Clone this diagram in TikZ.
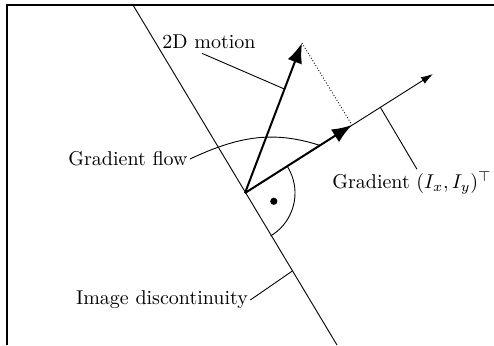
\documentclass[tikz,border=0pt]{standalone}
\usetikzlibrary{arrows.meta,calc}
\begin{document}
\begin{tikzpicture}[x=0.5pt,y=-0.5pt,
  thinline/.style={line width=0.45pt},
  vec/.style={line width=1pt,-{Latex[length=10pt,width=7.5pt]}},
  thinvec/.style={line width=0.45pt,-{Latex[length=6pt,width=3.8pt]}},
  lbl/.style={font=\normalsize,inner sep=1pt}]
\useasboundingbox (0,0) rectangle (494,345);
% frame
\draw[line width=0.7pt] (7,345) -- (7,5) -- (494,5);
% points
\coordinate (O) at (245,193);
\coordinate (M) at (302,43);
\coordinate (G) at (352,125);
\coordinate (E) at (433,74);
\coordinate (D1) at (133,5);
\coordinate (D2) at (337,345);
% discontinuity
\draw[thinline] (D1) -- (D2);
% vectors
\draw[thinvec] (O) -- (E);
\draw[vec] (O) -- (M);
\draw[vec] (O) -- (G);
\draw[thinline,densely dotted] (M) -- (G);
% right angle arc
\draw[thinline] ($(O)+(32.4:50 and -50)$) arc[start angle=32.4,end angle=-59.1,x radius=50,y radius=-50];
\fill ($(O)+(-16:30 and -30)$) circle[radius=3.6];
% labels
\node[lbl] (lm) at (209,42) {2D motion};
\node[lbl] (lf) at (128,159) {Gradient flow};
\node[lbl] (lg) at (412,183) {Gradient $(I_x,I_y)^\top$};
\node[lbl] (ld) at (162,300) {Image discontinuity};
% connectors
\coordinate (pm) at ($(O)!0.693!(M)$);
\coordinate (pg) at ($(O)!0.72!(E)$);
\coordinate (pd) at ($(D1)!0.782!(D2)$);
\coordinate (pf) at ($(O)!0.70!(G)$);
\draw[thinline] ($(lm.south)+(-7,2)$) -- (pm);
\draw[thinline] ($(lg.north)+(5,0)$) -- (pg);
\draw[thinline] (ld.east) -- (pd);
\draw[thinline] (lf.east) to[out=25,in=162] (pf);
\end{tikzpicture}
\end{document}
